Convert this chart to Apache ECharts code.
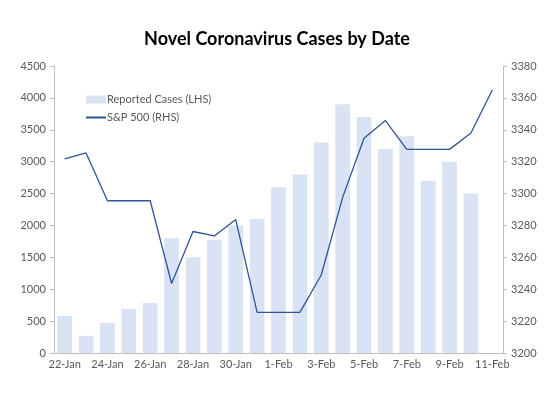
<!DOCTYPE html>
<html>
<head>
<meta charset="utf-8">
<script src="https://cdn.jsdelivr.net/npm/echarts@6/dist/echarts.min.js"></script>
<style>
  html, body { margin: 0; padding: 0; background: #fff; }
  #chart { width: 554px; height: 397px; }
</style>
</head>
<body>
<div id="chart"></div>
<script>
var dates = ['22-Jan', '23-Jan', '24-Jan', '25-Jan', '26-Jan', '27-Jan', '28-Jan', '29-Jan', '30-Jan', '31-Jan',
    '1-Feb', '2-Feb', '3-Feb', '4-Feb', '5-Feb', '6-Feb', '7-Feb', '8-Feb', '9-Feb', '10-Feb', '11-Feb'];
var cases = [580, 270, 470, 690, 785, 1800, 1500, 1775, 2000, 2100,
    2600, 2800, 3300, 3900, 3700, 3200, 3400, 2700, 3000, 2500, null];
var sp500 = [3321.7, 3325.5, 3295.5, 3295.5, 3295.5, 3243.6, 3276.2, 3273.4, 3283.7, 3225.5,
    3225.5, 3225.5, 3248.9, 3297.6, 3334.7, 3345.8, 3327.7, 3327.7, 3327.7, 3338, 3365];

var font = 'Lato, "Open Sans", sans-serif';
var axisColor = '#bfbfbf';
var labelColor = '#595959';

function plain(v) {
    return String(v);
}

var chart = echarts.init(document.getElementById('chart'));

var option = {
    animation: false,
    backgroundColor: '#ffffff',
    title: {
        text: 'Novel Coronavirus Cases by Date',
        left: 'center',
        top: 25,
        textStyle: {
            fontFamily: font,
            fontSize: 18,
            fontWeight: 'bold',
            color: '#000000'
        }
    },
    legend: {
        orient: 'vertical',
        left: 80,
        top: 89,
        itemWidth: 20,
        itemHeight: 8,
        itemGap: 7,
        textStyle: {
            fontFamily: font,
            fontSize: 11,
            color: labelColor,
            padding: [0, 0, 0, -4]
        },
        data: [
            {name: 'Reported Cases (LHS)', icon: 'rect'},
            {name: 'S&P 500 (RHS)', itemStyle: {opacity: 0}}
        ]
    },
    grid: {
        left: 54,
        right: 51,
        top: 66,
        bottom: 44
    },
    xAxis: {
        type: 'category',
        data: dates,
        boundaryGap: true,
        axisLine: {lineStyle: {color: axisColor}},
        axisTick: {interval: 1, length: 4, lineStyle: {color: axisColor}},
        axisLabel: {
            interval: 1,
            color: labelColor,
            fontFamily: font,
            fontSize: 11,
            margin: 6
        }
    },
    yAxis: [
        {
            type: 'value',
            min: 0,
            max: 4500,
            interval: 500,
            axisLine: {show: true, lineStyle: {color: axisColor}},
            axisTick: {show: true, length: 4, lineStyle: {color: axisColor}},
            splitLine: {show: false},
            axisLabel: {color: labelColor, fontFamily: font, fontSize: 11, margin: 8, formatter: plain}
        },
        {
            type: 'value',
            min: 3200,
            max: 3380,
            interval: 20,
            position: 'right',
            axisLine: {show: true, lineStyle: {color: axisColor}},
            axisTick: {show: true, length: 4, lineStyle: {color: axisColor}},
            splitLine: {show: false},
            axisLabel: {color: labelColor, fontFamily: font, fontSize: 11, margin: 8, formatter: plain}
        }
    ],
    series: [
        {
            name: 'Reported Cases (LHS)',
            type: 'bar',
            yAxisIndex: 0,
            data: cases,
            barCategoryGap: '31%',
            itemStyle: {color: '#dae3f3'}
        },
        {
            name: 'S&P 500 (RHS)',
            type: 'line',
            yAxisIndex: 1,
            data: sp500,
            symbol: 'none',
            lineStyle: {color: '#2f5597', width: 1.3},
            itemStyle: {color: '#2f5597'}
        }
    ]
};

chart.setOption(option);
</script>
</body>
</html>
